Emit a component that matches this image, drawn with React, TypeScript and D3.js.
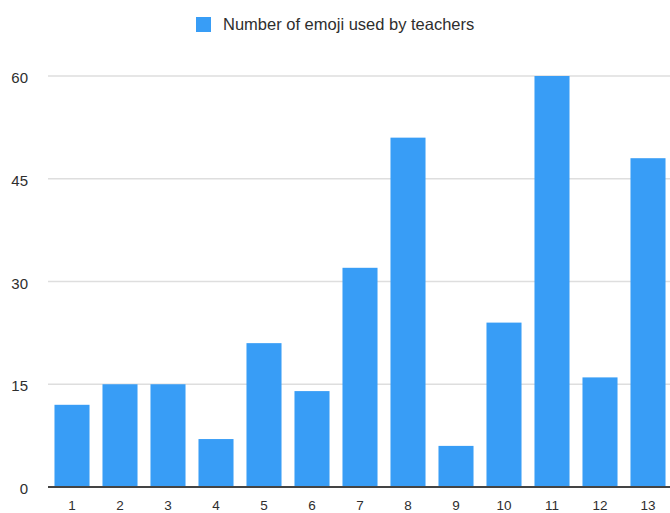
import React from "react";
import * as d3 from "d3";

const categories: string[] = ["1", "2", "3", "4", "5", "6", "7", "8", "9", "10", "11", "12", "13"];
const emojiCounts: number[] = [12, 15, 15, 7, 21, 14, 32, 51, 6, 24, 60, 16, 48];
const yTicks: number[] = [0, 15, 30, 45, 60];
const seriesName = "Number of emoji used by teachers";

const W = 670;
const H = 513;
const left = 48;
const right = 672;
const top = 76;
const bottom = 487;
const barColor = "#389DF6";
const font = "'Liberation Sans', Arial, Helvetica, sans-serif";

export default function App() {
  const x = d3.scaleBand<string>().domain(categories).range([left, right]).paddingInner(0.27).paddingOuter(0.135);
  const y = d3.scaleLinear().domain([0, 60]).range([bottom, top]);

  return (
    <svg
      width={W}
      height={H}
      style={{ position: "absolute", left: 0, top: 0, background: "#fff" }}
      fontFamily={font}
    >
      {/* legend */}
      <rect x={196} y={17} width={15} height={15} fill={barColor} />
      <text x={223} y={30} fontSize={16.5} fill="#2e2e2e">
        {seriesName}
      </text>

      {/* gridlines */}
      {yTicks.filter((t) => t !== 0).map((t) => (
        <line key={t} x1={left} x2={W} y1={y(t)} y2={y(t)} stroke="#dedede" strokeWidth={1.5} />
      ))}

      {/* y tick labels */}
      {yTicks.map((t) => (
        <text key={t} x={28} y={y(t) + 7} textAnchor="end" fontSize={15} fill="#2e2e2e">
          {t}
        </text>
      ))}

      {/* bars */}
      {categories.map((c, i) => (
        <rect
          key={c}
          x={x(c)}
          y={y(emojiCounts[i])}
          width={x.bandwidth()}
          height={bottom - y(emojiCounts[i])}
          fill={barColor}
        />
      ))}

      {/* baseline */}
      <line x1={left} x2={W} y1={bottom} y2={bottom} stroke="#444" strokeWidth={2} />

      {/* x labels */}
      {categories.map((c) => (
        <text
          key={c}
          x={(x(c) as number) + x.bandwidth() / 2}
          y={510}
          textAnchor="middle"
          fontSize={13.5}
          fill="#2e2e2e"
        >
          {c}
        </text>
      ))}
    </svg>
  );
}
